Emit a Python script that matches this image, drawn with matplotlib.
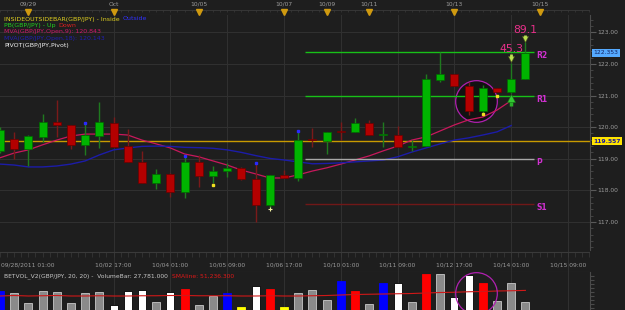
import numpy as np
import matplotlib.pyplot as plt
from matplotlib.transforms import blended_transform_factory as blend

W, H = 625, 310
BG = '#1e1e1e'
GRID = '#303030'
AXIS_TXT = '#9c9c9c'
XMAX = 41.55

# GBP/JPY, one candle every 8 hours (weekend skipped)
opens = [119.25, 119.62, 119.31, 119.70, 120.17, 120.07, 119.44, 119.73, 120.14, 119.40,
         118.91, 118.24, 118.52, 117.96, 118.91, 118.46, 118.61, 118.71, 118.36, 117.52,
         118.47, 118.40, 119.60, 119.57, 119.86, 119.84, 120.12, 119.74, 119.74, 119.38,
         119.40, 121.49, 121.68, 121.30, 120.51, 121.23, 121.10, 121.53]
highs = [120.00, 119.86, 119.74, 120.42, 120.86, 120.08, 120.13, 120.80, 120.33, 119.94,
         119.25, 118.68, 118.55, 119.10, 119.12, 118.77, 118.88, 118.74, 118.88, 118.49,
         118.65, 119.91, 119.97, 119.86, 120.16, 120.30, 120.23, 120.17, 120.02, 119.59,
         121.67, 122.38, 121.68, 121.44, 121.34, 121.24, 122.03, 122.70]
lows = [119.18, 118.99, 118.78, 119.54, 119.70, 119.31, 119.12, 119.34, 119.38, 118.91,
        118.24, 118.04, 117.80, 117.75, 118.11, 118.23, 118.43, 118.33, 116.99, 117.44,
        118.38, 118.28, 119.37, 119.15, 119.59, 119.84, 119.74, 119.38, 119.38, 119.26,
        119.40, 121.44, 121.31, 120.39, 120.44, 121.11, 121.07, 121.53]
closes = [119.91, 119.31, 119.72, 120.17, 120.07, 119.44, 119.75, 120.16, 119.38, 118.91,
          118.24, 118.52, 117.96, 118.91, 118.46, 118.61, 118.71, 118.36, 117.52, 118.47,
          118.38, 119.59, 119.58, 119.86, 119.84, 120.12, 119.74, 119.75, 119.38, 119.39,
          121.53, 121.68, 121.31, 120.52, 121.23, 121.12, 121.53, 122.353]

mva9 = [119.03, 119.18, 119.28, 119.44, 119.59, 119.72, 119.78, 119.78, 119.78, 119.75,
        119.59, 119.47, 119.34, 119.15, 119.06, 118.93, 118.80, 118.64, 118.52, 118.39,
        118.39, 118.49, 118.61, 118.71, 118.83, 118.96, 119.09, 119.25, 119.40, 119.59,
        119.69, 119.88, 120.07, 120.23, 120.32, 120.54, 120.84]
mva18 = [118.83, 118.80, 118.74, 118.74, 118.77, 118.83, 118.93, 119.12, 119.28, 119.34,
         119.39, 119.40, 119.39, 119.36, 119.35, 119.33, 119.28, 119.20, 119.10, 119.01,
         118.96, 118.90, 118.84, 118.85, 118.87, 118.90, 118.93, 118.96, 119.06, 119.21,
         119.34, 119.47, 119.59, 119.66, 119.75, 119.85, 120.05]

# volume in thousands
volumes = [50.6, 45.4, 25.4, 50.6, 47.4, 25.4, 46.6, 48.6, 22.0, 50.6,
           52.0, 27.4, 47.4, 54.0, 22.0, 40.6, 46.6, 18.6, 60.6, 54.0,
           17.4, 45.4, 52.0, 32.0, 70.0, 50.0, 24.0, 65.4, 66.6, 28.6,
           84.0, 84.0, 37.4, 82.0, 65.4, 30.6, 66.6, 27.8]
vol_kind = ['blue', 'gray', 'gray', 'gray', 'gray', 'gray', 'gray', 'gray', 'white', 'white',
            'white', 'gray', 'white', 'red', 'gray', 'gray', 'blue', 'yellow', 'white', 'red',
            'yellow', 'gray', 'gray', 'gray', 'blue', 'red', 'gray', 'blue', 'white', 'gray',
            'red', 'gray', 'white', 'white', 'red', 'gray', 'gray', 'gray']
vol_sma = [40.0, 41.0, 40.0, 40.5, 41.0, 40.0, 40.0, 40.5, 40.0, 40.0,
           40.5, 40.5, 41.0, 41.0, 40.5, 40.5, 40.5, 40.0, 40.0, 40.5,
           40.0, 40.0, 40.5, 41.0, 42.0, 43.0, 43.5, 44.0, 44.5, 45.0,
           46.0, 47.0, 47.5, 48.5, 49.0, 50.0, 50.5, 51.2]

last_close = 122.353
hline_level = 119.557
pivot_names = ['R2', 'R1', 'P', 'S1']
pivot_levels = [122.38, 120.99, 118.99, 117.57]
pivot_colors = ['#18c018', '#18c018', '#a8a8a8', '#701818']

blue_dot_idx = [6, 13, 18, 21]
blue_dot_px = [120.14, 119.09, 118.88, 119.88]
yellow_dot_idx = [15, 34, 35]
yellow_dot_px = [118.18, 120.41, 120.99]
signal_idx = [36, 37]
signal_px = [122.16, 122.79]
signal_txt = ['45.3', '89.1']
circle_idx = 33.5
circle_px = 120.84
circle_vol = 46.0

top_idx = [2, 8, 14, 20, 23, 26, 32, 38]
top_labels = ['09/29', 'Oct', '10/05', '10/07', '10/09', '10/11', '10/13', '10/15']
time_idx = [8, 12, 16, 20, 24, 28, 32, 36, 40]
time_labels = ['10/02 17:00', '10/04 01:00', '10/05 09:00', '10/06 17:00', '10/10 01:00',
               '10/11 09:00', '10/12 17:00', '10/14 01:00', '10/15 09:00']

fig = plt.figure(figsize=(W / 100, H / 100), dpi=100)
fig.patch.set_facecolor(BG)


def panel(x0, y0, x1, y1):
    a = fig.add_axes([x0 / W, 1 - y1 / H, (x1 - x0) / W, (y1 - y0) / H])
    a.set_facecolor(BG)
    a.set_xlim(0, XMAX)
    for s in a.spines.values():
        s.set_visible(False)
    a.set_xticks([])
    a.set_yticks([])
    return a


def px_text(x, y, s, **kw):
    return fig.text(x / W, 1 - y / H, s, va='center', ha='left', **kw)


def two_tone(x, y, first, c1, second, c2, fs, gap=3):
    # second part starts right after the first one, like the platform's legend
    t = px_text(x, y, first, color=c1, fontsize=fs)
    bb = t.get_window_extent(renderer=fig.canvas.get_renderer())
    px_text(bb.x1 + gap, y, second, color=c2, fontsize=fs)


# ---- main price panel
ax = panel(0, 15, 590, 250)
ax.set_ylim(116.11, 123.55)
for lvl in range(117, 124):
    ax.axhline(lvl, color=GRID, lw=0.8, zorder=0)
for i in time_idx:
    ax.axvline(i, color=GRID, lw=0.8, zorder=0)
ax.spines['right'].set_visible(True)
ax.spines['right'].set_color('#4a4a4a')
ax.yaxis.tick_right()
ax.set_yticks(range(117, 124))
ax.set_yticklabels([f'{v:.2f}' for v in range(117, 124)])
ax.set_yticks(np.arange(116.2, 123.6, 0.2), minor=True)
ax.tick_params(axis='y', which='major', colors='#5a5a5a', labelcolor=AXIS_TXT,
               labelsize=4.3, length=4, pad=1.5)
ax.tick_params(axis='y', which='minor', colors='#4a4a4a', length=2)

ax.axhline(hline_level, color='#c89a00', lw=1.0, zorder=1)

idx = np.arange(len(opens))
o = np.array(opens)
c = np.array(closes)
up = c >= o
body_col = np.where(up, '#00b400', '#b40000')
edge_col = np.where(up, '#006a00', '#6a0000')
wick_col = np.where(up, '#1f7a1f', '#7a1a1a')

# highlight circle behind the inside bars
ax.plot([circle_idx], [circle_px], 'o', ms=30, mfc='#121212', mec='#b020b0', mew=0.9, zorder=1.5)

ax.plot(idx[:len(mva9)], mva9, color='#c8185c', lw=0.9, zorder=2)
ax.plot(idx[:len(mva18)], mva18, color='#1c1ca8', lw=1.0, zorder=2)

ax.vlines(idx, lows, highs, colors=wick_col, lw=1.0, zorder=3)
ax.bar(idx, np.maximum(np.abs(c - o), 0.035), bottom=np.minimum(o, c), width=0.56,
       color=body_col, edgecolor=edge_col, lw=0.5, zorder=4)

for name, lvl, col in zip(pivot_names, pivot_levels, pivot_colors):
    ax.hlines(lvl, 21.5, 37.6, color=col, lw=1.0, zorder=2.5)
    ax.text(37.75, lvl - 0.12, name, color='#d030d0', fontsize=5.5, va='center', ha='left',
            fontweight='bold', zorder=6)

ax.plot(blue_dot_idx, blue_dot_px, 's', ms=1.6, color='#2a2aff', zorder=5)
ax.plot(yellow_dot_idx, yellow_dot_px, 's', ms=1.6, color='#f0e020', zorder=5)
ax.plot([19], [117.41], '+', ms=3, mew=0.8, color='#f0f0a0', zorder=5)

ax.plot(signal_idx, signal_px, 'v', ms=5, mfc='#b8e050', mec='#506020', mew=0.4, zorder=6)
ax.vlines(signal_idx, np.array(signal_px) + 0.05, np.array(signal_px) + 0.14,
          colors='#b8e050', lw=2, zorder=6)
for i, p, t in zip(signal_idx, signal_px, signal_txt):
    ax.text(i, p + 0.3, t, color='#e8308a', fontsize=7.8, ha='center', va='center', zorder=6)
ax.vlines([36], 120.68, 120.88, colors='#28b028', lw=2.5, zorder=6)
ax.plot([36], [120.92], '^', ms=6, mfc='#34c834', mec='#107010', mew=0.4, zorder=6)

tr = blend(ax.transAxes, ax.transData)
ax.text(1.006, last_close, '122.353', transform=tr, fontsize=4.3, color='#102060',
        va='center', ha='left', clip_on=False,
        bbox=dict(facecolor='#55aaff', edgecolor='none', pad=0.9))
ax.text(1.006, hline_level, '119.557', transform=tr, fontsize=4.3, color='#1a1aa0',
        va='center', ha='left', clip_on=False, fontweight='bold',
        bbox=dict(facecolor='#ffe400', edgecolor='none', pad=0.9))

# legend lines
fs = 4.5
two_tone(4, 19, 'INSIDEOUTSIDEBAR(GBP/JPY) - Inside', '#e0d020', 'Outside', '#3030ff', fs)
two_tone(4, 25.5, 'PB(GBP/JPY) - Up', '#20d020', 'Down', '#e02020', fs)
px_text(4, 32, 'MVA(GBP/JPY,Open,9): 120.843', color='#d0186a', fontsize=fs)
px_text(4, 38.5, 'MVA(GBP/JPY,Open,18): 120.143', color='#2020b0', fontsize=fs)
px_text(4, 45, 'PIVOT(GBP/JPY,Pivot)', color='#f0f0f0', fontsize=fs)

# ---- top date strip
ax_top = panel(0, 0, 590, 15)
ax_top.set_ylim(15, 0)
ax_top.axhline(9.5, color='#3a3a3a', lw=0.6)
ax_top.axhline(14.6, color='#3a3a3a', lw=0.8)
ax_top.vlines(np.arange(0, XMAX, 0.5), 9.5, 11.5, colors='#3a3a3a', lw=0.5)
for i, lab in zip(top_idx, top_labels):
    ax_top.text(i, 4.5, lab, color=AXIS_TXT, fontsize=4.3, ha='center', va='center')
ax_top.plot(top_idx, [11.5] * len(top_idx), 'v', ms=4, color='#d09a10')

# ---- time strip between panels
ax_mid = panel(0, 250, 590, 272)
ax_mid.set_ylim(22, 0)
ax_mid.axhline(1.7, color='#3a3a3a', lw=0.8)
ax_mid.axhline(21.6, color='#3a3a3a', lw=0.8)
ax_mid.vlines(np.arange(0, XMAX, 0.5), 1.7, 7, colors='#3a3a3a', lw=0.5)
for i in time_idx:
    ax_mid.axvline(i, color=GRID, lw=0.8, zorder=0)
ax_mid.text(0.05, 15, '09/28/2011 01:00', color=AXIS_TXT, fontsize=4.3, ha='left', va='center')
for i, lab in zip(time_idx, time_labels):
    ax_mid.text(i, 15, lab, color=AXIS_TXT, fontsize=4.3, ha='center', va='center')

# ---- volume panel
ax_vol = panel(0, 272, 590, 320)
ax_vol.set_ylim(-8, 88)
for i in time_idx:
    ax_vol.axvline(i, color=GRID, lw=0.8, zorder=0)
ax_vol.spines['right'].set_visible(True)
ax_vol.spines['right'].set_color('#4a4a4a')
ax_vol.yaxis.tick_right()
ax_vol.set_yticks(np.arange(0, 88, 8))
ax_vol.tick_params(axis='y', colors='#4a4a4a', length=3, labelright=False)

fills = {'blue': '#0000ff', 'gray': '#8a8a8a', 'white': '#ffffff', 'red': '#ff0000', 'yellow': '#ffff00'}
edges = {'blue': '#0000ff', 'gray': '#c8c8c8', 'white': '#000000', 'red': '#ff0000', 'yellow': '#ffff00'}
ax_vol.bar(idx, volumes, width=0.56, color=[fills[k] for k in vol_kind],
           edgecolor=[edges[k] for k in vol_kind], lw=0.6, zorder=2)
ax_vol.plot(idx, vol_sma, color='#d01818', lw=0.8, zorder=3)
ax_vol.plot([circle_idx], [circle_vol], 'o', ms=30, mfc='none', mec='#b020b0', mew=0.9, zorder=4)

two_tone(4, 276, 'BETVOL_V2(GBP/JPY, 20, 20) -  VolumeBar: 27,781.000', '#c8c8c8',
         'SMAline: 51,236.300', '#e01818', 4.3, gap=4)

fig.savefig('out.png', dpi=100, facecolor=BG)
